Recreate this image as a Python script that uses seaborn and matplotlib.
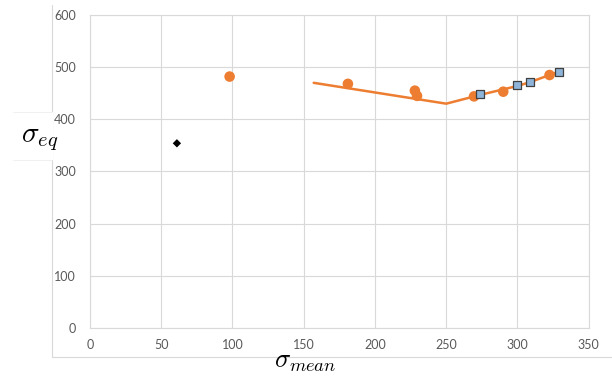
import matplotlib
matplotlib.use('Agg')
import matplotlib.pyplot as plt
from matplotlib.lines import Line2D
from matplotlib.patches import Rectangle
import seaborn as sns
import pandas as pd

# orange measured points
dots_x = [98, 181, 228, 229.5, 269.5, 290, 322.5]
dots_y = [482, 468, 455, 445, 444, 453, 485]

# square markers
squares_x = [274, 300, 308.5, 329]
squares_y = [448, 465, 471, 491]

# black diamond
diamond_x = [61]
diamond_y = [354]

# fitted line
line_x = [157, 250, 274, 300, 308.5, 322.5, 329]
line_y = [470, 430, 447, 464, 471, 485, 491]

xticks = [0, 50, 100, 150, 200, 250, 300, 350]
yticks = [0, 100, 200, 300, 400, 500, 600]

orange = '#ed7d31'
grid_c = '#d9d9d9'
text_c = '#595959'

sns.set_style('whitegrid', {'grid.color': grid_c, 'axes.edgecolor': grid_c})
plt.rcParams['font.family'] = ['Lato', 'DejaVu Sans']
plt.rcParams['mathtext.fontset'] = 'cm'

fig = plt.figure(figsize=(6.12, 3.76), dpi=100)
ax = fig.add_axes([0.147, 0.128, 0.815, 0.832])

line_df = pd.DataFrame({'x': line_x, 'y': line_y})
sns.lineplot(data=line_df, x='x', y='y', sort=False, color=orange, lw=1.8, ax=ax, zorder=2)

dots_df = pd.DataFrame({'x': dots_x, 'y': dots_y})
sns.scatterplot(data=dots_df, x='x', y='y', color=orange, s=58, edgecolor='none', ax=ax, zorder=3)

sq_df = pd.DataFrame({'x': squares_x, 'y': squares_y})
sns.scatterplot(data=sq_df, x='x', y='y', marker='s', color='#8fb4d9', s=38,
                edgecolor='#404040', linewidth=0.9, ax=ax, zorder=4)

dm_df = pd.DataFrame({'x': diamond_x, 'y': diamond_y})
sns.scatterplot(data=dm_df, x='x', y='y', marker='D', color='black', s=18,
                edgecolor='none', ax=ax, zorder=4)

ax.set_xlim(0, 350)
ax.set_ylim(0, 600)
ax.set_xticks(xticks)
ax.set_yticks(yticks)
ax.tick_params(axis='both', length=0, colors=text_c, labelsize=9)
ax.tick_params(axis='x', pad=8)
ax.tick_params(axis='y', pad=10)
ax.set_xlabel('')
ax.set_ylabel('')
for sp in ax.spines.values():
    sp.set_color(grid_c)
    sp.set_linewidth(0.8)

# outer chart frame (left and bottom)
fig.add_artist(Line2D([52/612, 52/612], [1 - 5/376, 1 - 357/376], color=grid_c, lw=0.8))
fig.add_artist(Line2D([52/612, 1.0], [1 - 357/376, 1 - 357/376], color=grid_c, lw=0.8))

# axis labels as pasted text boxes
fig.add_artist(Rectangle((13/612, 1 - 160/376), 40/612, 48/376, transform=fig.transFigure,
                         facecolor='white', edgecolor='none', zorder=5))
fig.add_artist(Line2D([13/612, 52/612], [1 - 112/376, 1 - 112/376], color='#eeeeee', lw=0.6, zorder=6))
fig.add_artist(Line2D([13/612, 52/612], [1 - 160/376, 1 - 160/376], color='#eeeeee', lw=0.6, zorder=6))
fig.text(21/612, 1 - 140/376, r'$\sigma_{eq}$', fontsize=21, color='black', va='center', ha='left',
         zorder=7)
fig.text(305/612, 1 - 368/376, r'$\sigma_{mean}$', fontsize=19, color='black', va='baseline', ha='center')

fig.savefig('out.png', dpi=100)
